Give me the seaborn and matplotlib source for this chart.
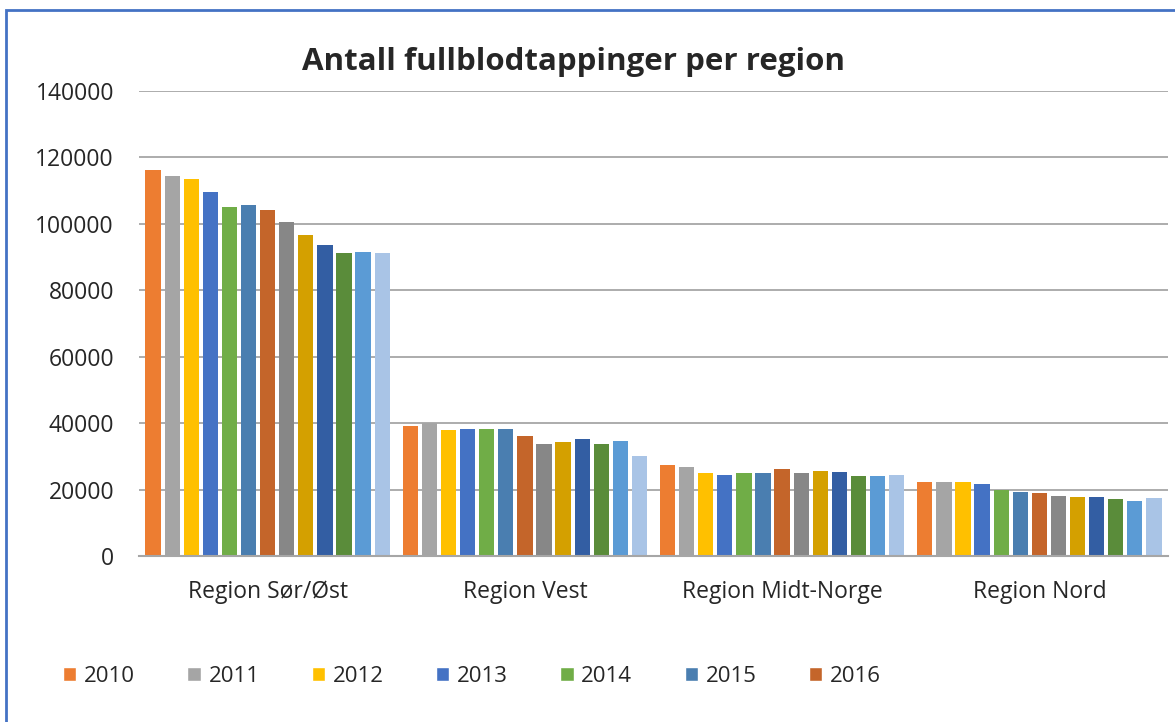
import seaborn as sns
import pandas as pd
import matplotlib.pyplot as plt
from matplotlib.patches import Patch, Rectangle

regions = ["Region Sør/Øst", "Region Vest", "Region Midt-Norge", "Region Nord"]
years = [str(y) for y in range(2010, 2023)]

# verdier per år (2010-2022), lest av figuren
sor_ost = [116200, 114400, 113600, 109600, 105200, 105600, 104200, 100600, 96700, 93600, 91100, 91500, 91300]
vest = [39100, 40100, 37800, 38300, 38100, 38100, 36100, 33600, 34300, 35100, 33600, 34700, 30100]
midt = [27300, 26700, 24900, 24300, 25100, 25100, 26100, 25100, 25500, 25300, 24100, 24200, 24400]
nord = [22400, 22200, 22200, 21700, 20000, 19300, 19000, 18200, 17700, 17700, 17100, 16700, 17400]

colors = ["#ED7D31", "#A5A5A5", "#FFC000", "#4472C4", "#70AD47", "#4A7EB0", "#C4652A",
          "#878787", "#D4A000", "#335EA3", "#5A8C3A", "#5B9BD5", "#A9C4E6"]

rows = []
for reg, vals in zip(regions, [sor_ost, vest, midt, nord]):
    for yr, v in zip(years, vals):
        rows.append({"region": reg, "year": yr, "antall": v})
df = pd.DataFrame(rows)

sns.set_style("white")
plt.rcParams['font.family'] = ['Open Sans', 'DejaVu Sans']

fig = plt.figure(figsize=(11.75, 7.22), dpi=100)
ax = fig.add_axes([139/1175, 1 - 556/722, (1168 - 139)/1175, (556 - 91)/722])

sns.barplot(data=df, x="region", y="antall", hue="year", palette=colors, saturation=1,
            width=0.965, gap=0.2, ax=ax, legend=False, edgecolor="none")

ax.set_ylim(0, 140000)
ax.set_yticks(range(0, 140001, 20000))
ax.yaxis.grid(True, color="#A6A6A6", linewidth=1.3)
ax.set_axisbelow(True)
for s in ["top", "right", "left"]:
    ax.spines[s].set_visible(False)
ax.spines["bottom"].set_color("#A6A6A6")
ax.spines["bottom"].set_linewidth(1.5)
ax.set_xlabel("")
ax.set_ylabel("")
ax.tick_params(axis="y", length=0, pad=18, labelsize=16.5)
ax.tick_params(axis="x", length=0, pad=17, labelsize=16.5)

fig.text(574/1175, 1 - 62/722, "Antall fullblodtappinger per region",
         ha="center", va="center", fontsize=22.5, fontweight="bold")

# legenden i originalen viser bare 2010-2016
handles = [Patch(facecolor=c, label=y) for c, y in zip(colors[:7], years[:7])]
fig.legend(handles=handles, loc="center left", bbox_to_anchor=(43/1175, 1 - 676/722),
           ncol=7, frameon=False, fontsize=16, handlelength=0.6, handleheight=0.6,
           handletextpad=0.35, columnspacing=2.35)

fig.patches.append(Rectangle((6/1175, -0.1), 1.2, 1.1 - 10/722, transform=fig.transFigure,
                             fill=False, edgecolor="#4472C4", linewidth=2))

fig.savefig("out.png", dpi=100)
